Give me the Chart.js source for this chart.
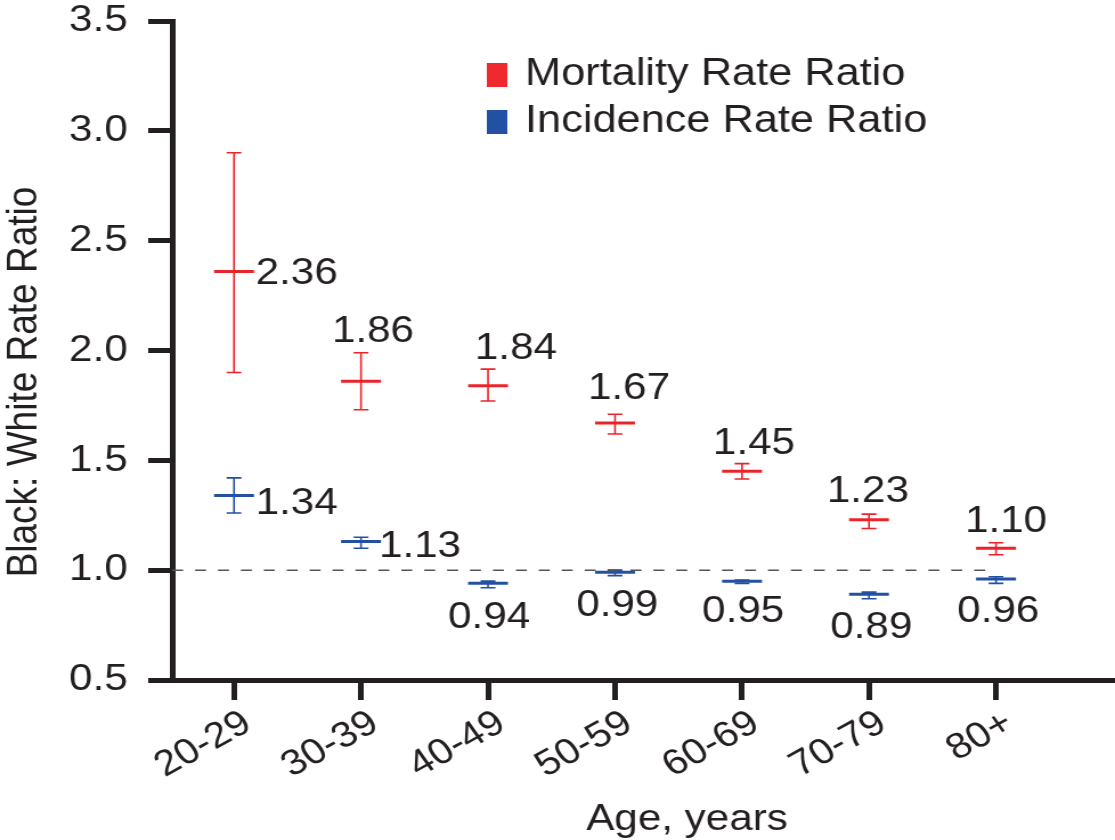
<!DOCTYPE html>
<html><head><meta charset="utf-8">
<script src="https://cdn.jsdelivr.net/npm/chart.js@4"></script>
<style>
html,body{margin:0;padding:0;background:#fff;overflow:hidden}
</style>
</head><body>
<canvas id="c" width="978" height="840" style="display:block;width:1115px;height:840px"></canvas>
<script>
// ---- data ----
const categories = ['20-29','30-39','40-49','50-59','60-69','70-79','80+'];
const mortality      = [2.36, 1.86, 1.84, 1.67, 1.45, 1.23, 1.10];
const mortalityLow   = [1.90, 1.73, 1.77, 1.62, 1.415, 1.19, 1.07];
const mortalityHigh  = [2.90, 1.99, 1.915, 1.71, 1.485, 1.255, 1.125];
const incidence      = [1.34, 1.13, 0.94, 0.99, 0.95, 0.89, 0.96];
const incidenceLow   = [1.26, 1.10, 0.92, 0.975, 0.94, 0.87, 0.94];
const incidenceHigh  = [1.42, 1.15, 0.95, 1.00, 0.955, 0.90, 0.97];
const yTicks = [0.5, 1.0, 1.5, 2.0, 2.5, 3.0, 3.5];
const referenceValue = 1.0;

// ---- style ----
const FONT = '"Liberation Sans", Arial, Helvetica, sans-serif';
const INK = '#231f20';
const RED = '#ec2329';
const BLUE = '#2350a3';
// label offsets (canvas px) relative to the point
const mortDx = [55, 10.5, 24.5, 12.3, 10.5, -1, 8.8];
const mortDy = [2, -49, -37, -34, -28, -28, -26];
const incDx  = [55, 51.8, 1, 2, 1, 2, 2];
const incDy  = [8, 5, 34, 33, 31, 33, 33];

const toPoints = arr => arr.map((v, i) => ({x: i, y: v}));

const extras = {
  id: 'extras',
  beforeDatasetsDraw(chart) {
    const ctx = chart.ctx, xs = chart.scales.x, ys = chart.scales.y;
    chart.data.datasets.forEach(ds => {
      if (!ds.errLow) return;
      ctx.save();
      ctx.strokeStyle = ds.pointBorderColor;
      ctx.lineWidth = 1.6;
      ds.data.forEach((p, i) => {
        const x = xs.getPixelForValue(p.x);
        const yl = ys.getPixelForValue(ds.errLow[i]);
        const yh = ys.getPixelForValue(ds.errHigh[i]);
        ctx.beginPath();
        ctx.moveTo(x, yl); ctx.lineTo(x, yh);
        ctx.moveTo(x - 6.5, yl); ctx.lineTo(x + 6.5, yl);
        ctx.moveTo(x - 6.5, yh); ctx.lineTo(x + 6.5, yh);
        ctx.stroke();
      });
      ctx.restore();
    });
  },
  afterDraw(chart) {
    const ctx = chart.ctx, xs = chart.scales.x, ys = chart.scales.y;
    ctx.save();
    ctx.fillStyle = INK;
    ctx.textAlign = 'center';
    ctx.textBaseline = 'middle';
    ctx.font = '37px ' + FONT;
    chart.data.datasets.forEach(ds => {
      if (!ds.labelDx) return;
      ds.data.forEach((p, i) => {
        const x = xs.getPixelForValue(p.x) + ds.labelDx[i];
        const y = ys.getPixelForValue(p.y) + ds.labelDy[i];
        ctx.fillText(p.y.toFixed(2), x, y);
      });
    });
    // legend
    ctx.font = '38px ' + FONT;
    const rows = chart.data.datasets.filter(d => d.labelDx);
    rows.forEach((ds, k) => {
      const cy = 75 + k * 47;
      ctx.fillStyle = ds.legendColor;
      ctx.fillRect(427, cy - 12, 18, 24);
      ctx.fillStyle = INK;
      ctx.textAlign = 'left';
      ctx.fillText(ds.label, 460.5, cy);
    });
    // axis titles
    ctx.textAlign = 'center';
    ctx.font = '37px ' + FONT;
    ctx.fillText('Age, years', 602.6, 820);
    ctx.save();
    ctx.translate(22, 382);
    ctx.rotate(-Math.PI / 2);
    ctx.font = '37px ' + FONT;
    ctx.fillText('Black: White Rate Ratio', 0, 0);
    ctx.restore();
    ctx.restore();
  }
};

new Chart(document.getElementById('c'), {
  type: 'scatter',
  data: {
    datasets: [
      {
        label: 'Mortality Rate Ratio',
        data: toPoints(mortality),
        errLow: mortalityLow, errHigh: mortalityHigh,
        labelDx: mortDx, labelDy: mortDy,
        legendColor: '#ee2a2f',
        pointStyle: 'line', pointRadius: 17.5, pointHoverRadius: 17.5,
        pointBorderWidth: 3, pointHoverBorderWidth: 3,
        pointBorderColor: RED, pointBackgroundColor: RED, borderColor: RED,
        showLine: false, order: 1, clip: false
      },
      {
        label: 'Incidence Rate Ratio',
        data: toPoints(incidence),
        errLow: incidenceLow, errHigh: incidenceHigh,
        labelDx: incDx, labelDy: incDy,
        legendColor: '#2250a2',
        pointStyle: 'line', pointRadius: 17.5, pointHoverRadius: 17.5,
        pointBorderWidth: 3, pointHoverBorderWidth: 3,
        pointBorderColor: BLUE, pointBackgroundColor: BLUE, borderColor: BLUE,
        showLine: false, order: 2, clip: false
      },
      {
        label: 'ref',
        type: 'line',
        data: [{x: -0.487, y: referenceValue}, {x: 5.967, y: referenceValue}],
        borderColor: '#555', borderWidth: 1.5, borderDash: [9.6, 10.5],
        pointRadius: 0, fill: false, order: 10
      }
    ]
  },
  options: {
    responsive: false,
    animation: false,
    events: [],
    layout: {autoPadding: false, padding: {top: 21, right: 0, bottom: 0, left: 0}},
    plugins: {legend: {display: false}, tooltip: {enabled: false}},
    scales: {
      x: {
        type: 'linear', min: -0.487, max: 6.937,
        afterBuildTicks(s) { s.ticks = categories.map((c, i) => ({value: i})); },
        ticks: {
          callback: v => categories[v] ?? '',
          font: {family: FONT, size: 36}, color: INK,
          minRotation: 32, maxRotation: 32, padding: 2, labelOffset: 12, autoSkip: false
        },
        grid: {display: true, drawOnChartArea: false, drawTicks: true, tickLength: 20, tickWidth: 5, tickColor: INK},
        border: {display: true, color: INK, width: 5},
        afterFit(s) { s.height = 160; s.paddingLeft = 0; s.paddingRight = 0; }
      },
      y: {
        type: 'linear', min: 0.5, max: 3.5,
        afterBuildTicks(s) { s.ticks = yTicks.map(v => ({value: v})); },
        ticks: {callback: v => Number(v).toFixed(1), font: {family: FONT, size: 37}, color: INK, padding: 18},
        grid: {display: true, drawOnChartArea: false, drawTicks: true, tickLength: 21, tickWidth: 5, tickColor: INK},
        border: {display: true, color: INK, width: 5},
        afterFit(s) { s.width = 151; s.paddingTop = 0; s.paddingBottom = 0; }
      }
    }
  },
  plugins: [extras]
});
</script>
</body></html>
